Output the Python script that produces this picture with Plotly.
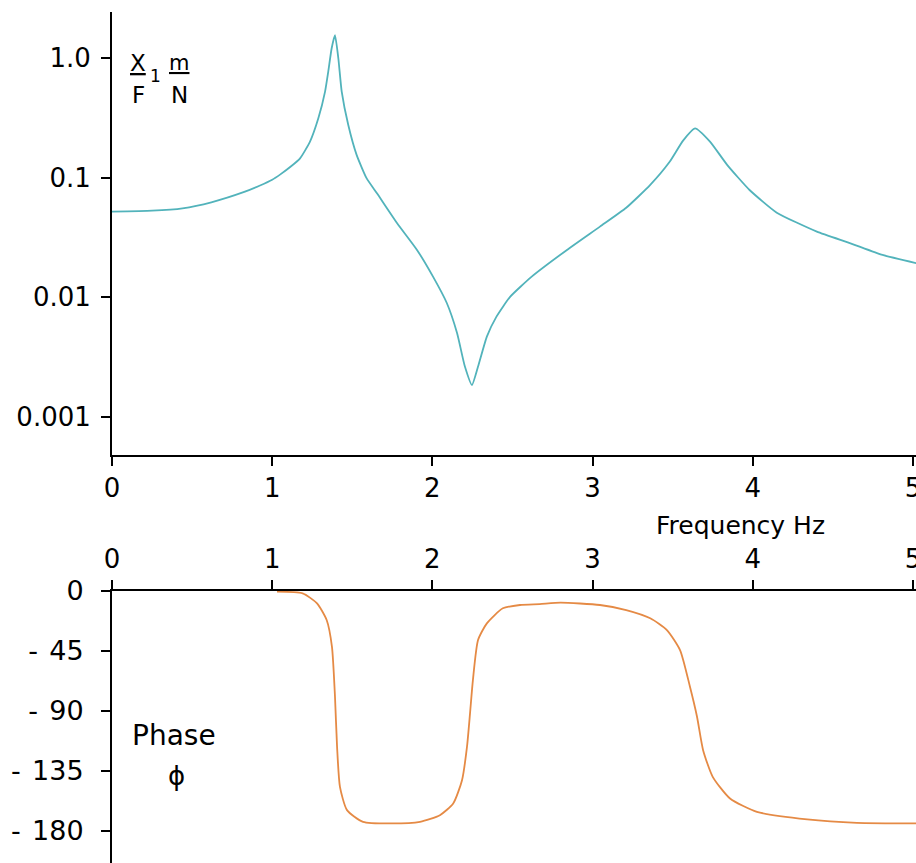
import plotly.graph_objects as go

# ---- data ----
mag_freq = [0.00, 0.25, 0.44, 0.62, 0.83, 0.924, 1.00, 1.049, 1.12, 1.174, 1.236, 1.288, 1.33,
            1.35, 1.371, 1.392, 1.413, 1.434, 1.475, 1.527, 1.589, 1.654, 1.78, 1.904, 2.004,
            2.09, 2.154, 2.203, 2.247, 2.285, 2.34, 2.40, 2.485, 2.62, 2.84, 3.046, 3.21, 3.36,
            3.48, 3.565, 3.64, 3.733, 3.84, 3.98, 4.15, 4.40, 4.61, 4.81, 5.02]
mag_vals = [0.052, 0.053, 0.0555, 0.0623, 0.0764, 0.086, 0.096, 0.106, 0.125, 0.145, 0.20, 0.313,
            0.523, 0.769, 1.2, 1.55, 0.99, 0.523, 0.275, 0.155, 0.099, 0.074, 0.0416, 0.0249,
            0.0149, 0.00897, 0.00504, 0.00264, 0.00185, 0.00264, 0.0047, 0.0069, 0.0101, 0.0149,
            0.0249, 0.039, 0.0560, 0.087, 0.135, 0.204, 0.258, 0.20, 0.128, 0.0789, 0.051,
            0.0354, 0.0283, 0.0226, 0.0193]

phase_freq = [1.03, 1.19, 1.28, 1.34, 1.373, 1.392, 1.405, 1.423, 1.467, 1.567, 1.735, 1.923,
              2.047, 2.13, 2.185, 2.216, 2.235, 2.253, 2.285, 2.34, 2.44, 2.547, 2.67, 2.80,
              3.046, 3.21, 3.36, 3.464, 3.546, 3.608, 3.652, 3.69, 3.75, 3.858, 4.026, 4.34,
              4.65, 5.02]
phase_vals = [-0.5, -1.8, -9.3, -21.8, -41.8, -79.4, -117, -147, -164.5, -173.3, -174.5, -173.3,
              -168.3, -159.5, -142, -117, -91.9, -66.9, -36.8, -24.3, -13, -10.5, -9.8, -8.8,
              -10.5, -14.3, -20.5, -29.3, -44.3, -71.9, -94.4, -119.5, -139.5, -155.8, -165.8,
              -171.5, -174.1, -174.5]

x_ticks = [0, 1, 2, 3, 4, 5]
x_ticktext = ["0", "1", "2", "3", "4", "5"]
mag_ticks = [0.001, 0.01, 0.1, 1.0]
mag_ticktext = ["0.001", "0.01", "0.1", "1.0"]
phase_ticks = [0, -45, -90, -135, -180]
phase_ticktext = ["0", "- \u200a45", "- \u200a90", "- \u200a135", "- \u200a180"]

W, H = 916, 863
def px(x):
    return x / W
def py(y):
    return 1 - y / H

FONT = "DejaVu Sans"
TEAL = "#52b3bb"
ORANGE = "#e58a45"

fig = go.Figure()
fig.add_trace(go.Scatter(x=mag_freq, y=mag_vals, mode="lines", xaxis="x", yaxis="y",
                         line=dict(color=TEAL, width=1.8, shape="spline", smoothing=0.5),
                         showlegend=False))
fig.add_trace(go.Scatter(x=phase_freq, y=phase_vals, mode="lines", xaxis="x2", yaxis="y2",
                         line=dict(color=ORANGE, width=1.8, shape="spline", smoothing=0.6),
                         showlegend=False))

axis_common = dict(showgrid=False, zeroline=False, showline=True, linecolor="black",
                   linewidth=2, ticks="outside", ticklen=9, tickwidth=2, tickcolor="black",
                   automargin=False, ticklabeloverflow="allow",
                   tickfont=dict(family=FONT, size=26, color="black"))

xdom = [px(112), 1.0]
xrange = [0, 5.019]

fig.update_layout(
    width=W, height=H,
    margin=dict(l=0, r=0, t=0, b=0),
    paper_bgcolor="white", plot_bgcolor="white",
    xaxis=dict(domain=xdom, range=xrange, anchor="y", tickvals=x_ticks, ticktext=x_ticktext,
               **axis_common),
    yaxis=dict(domain=[py(455), py(12)], type="log", range=[-3.317, 0.384], anchor="x",
               tickvals=mag_ticks, ticktext=mag_ticktext, ticklabelstandoff=5, **axis_common),
    xaxis2=dict(domain=xdom, range=xrange, anchor="y2", side="top", tickvals=x_ticks,
                ticktext=x_ticktext, ticklabelstandoff=2, **axis_common),
    yaxis2=dict(domain=[0, py(591)], range=[-204.2, 0], anchor="x2",
                tickvals=phase_ticks, ticktext=phase_ticktext, ticklabelstandoff=12,
                **axis_common),
)
fig.update_yaxes(tickfont=dict(family=FONT, size=27, color="black"), selector=dict(anchor="x2"))

def ann(text, x, y, size=25, xanchor="center"):
    fig.add_annotation(text=text, x=px(x), y=py(y), xref="paper", yref="paper",
                       showarrow=False, xanchor=xanchor, yanchor="middle",
                       font=dict(family=FONT, size=size, color="black"))

ann("Frequency Hz", 740, 525)
ann("<u>X</u>", 138, 63, size=23)
ann("1", 155, 76, size=17)
ann("F", 138, 95, size=23)
ann("<u>m</u>", 179, 63, size=21)
ann("N", 179, 95, size=23)
ann("Phase", 174, 735, size=28)
ann("ϕ", 176, 776, size=26)

fig.write_html("out.html", config={"displayModeBar": False})

# remove the default page margin so the figure sits at the window's top-left corner
with open("out.html", "r", encoding="utf-8") as f:
    html = f.read()
html = html.replace("<head>", "<head><style>html,body{margin:0;padding:0;overflow:hidden;}</style>", 1)
with open("out.html", "w", encoding="utf-8") as f:
    f.write(html)
